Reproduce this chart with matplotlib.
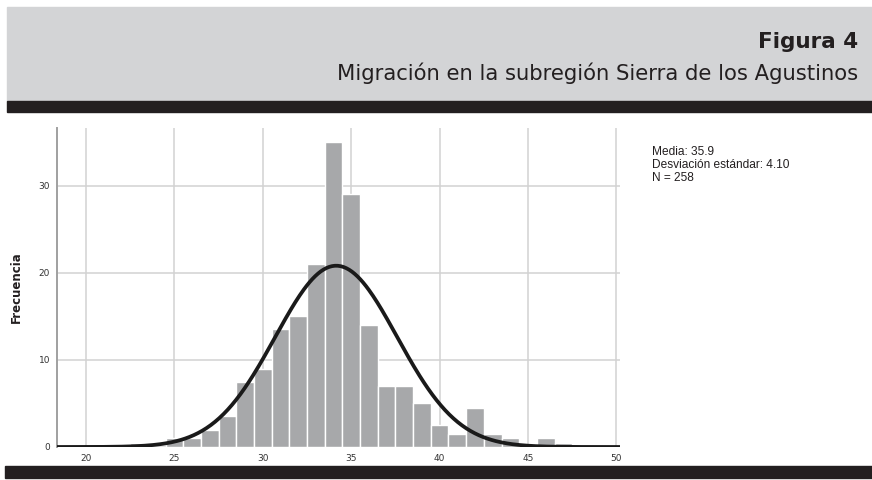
import numpy as np
import matplotlib
matplotlib.use("Agg")
import matplotlib.pyplot as plt
from matplotlib.patches import Rectangle

# histogram bins (centre of each 1-unit bin) and their frequencies
bin_centers = [23, 24, 25, 26, 27, 28, 29, 30, 31, 32, 33, 34, 35,
               36, 37, 38, 39, 40, 41, 42, 43, 44, 45, 46, 47]
frequencies = [0.5, 0, 1, 1, 2, 3.5, 7.5, 9, 13.5, 15, 21, 35, 29,
               14, 7, 7, 5, 2.5, 1.5, 4.5, 1.5, 1, 0, 1, 0.5]

# normal curve drawn over the histogram (as it appears in the figure)
curve_mean = 34.15
curve_sd = 3.45
curve_peak = 20.8

x_ticks = [20, 25, 30, 35, 40, 45, 50]
y_ticks = [0, 10, 20, 30]

title = "Figura 4"
subtitle = "Migración en la subregión Sierra de los Agustinos"
stats_lines = ["Media: 35.9", "Desviación estándar: 4.10", "N = 258"]

W, H = 872, 480
fig = plt.figure(figsize=(W / 100, H / 100), dpi=100)


def fx(px):
    return px / W


def fy(py):
    return 1 - py / H


# header: grey band + black rule
fig.patches.append(Rectangle((fx(7), fy(101)), 1, fy(7) - fy(101),
                             transform=fig.transFigure, color="#d3d4d6", zorder=0))
fig.patches.append(Rectangle((fx(7), fy(112)), 1, fy(101) - fy(112),
                             transform=fig.transFigure, color="#231f20", zorder=1))
# bottom black rule
fig.patches.append(Rectangle((fx(5), fy(478)), 1, fy(466) - fy(478),
                             transform=fig.transFigure, color="#231f20", zorder=1))

fig.text(fx(858), fy(42), title, ha="right", va="center", fontsize=15.5,
         fontweight="bold", color="#231f20", family="DejaVu Sans")
fig.text(fx(858), fy(73), subtitle, ha="right", va="center", fontsize=15.2,
         color="#231f20", family="DejaVu Sans")

# chart
ax = fig.add_axes([fx(57), fy(447), fx(620) - fx(57), fy(128) - fy(447)])
ax.bar(bin_centers, frequencies, width=1.0, color="#a7a8aa",
       edgecolor="white", linewidth=1.0, zorder=2)

xs = np.linspace(18.36, 50.2, 400)
ys = curve_peak * np.exp(-0.5 * ((xs - curve_mean) / curve_sd) ** 2)
ax.plot(xs, ys, color="#1a1a1a", linewidth=2.7, zorder=3, solid_capstyle="butt")

ax.set_xlim(18.36, 50.2)
ax.set_ylim(0, 36.6)
ax.set_xticks(x_ticks)
ax.set_yticks(y_ticks)
ax.grid(True, color="#d2d2d2", linewidth=1.1, zorder=0)
ax.set_axisbelow(True)
for s in ["top", "right", "bottom"]:
    ax.spines[s].set_visible(False)
ax.spines["left"].set_color("#a0a0a0")
ax.spines["left"].set_linewidth(1.4)
ax.tick_params(length=0, labelsize=6.5, colors="#333333", pad=5)

ax.set_ylabel("Frecuencia", fontsize=8.5, fontweight="bold",
              family="DejaVu Sans", color="#231f20", labelpad=11)

fig.text(fx(652), fy(146), "\n".join(stats_lines), ha="left", va="top",
         fontsize=8.6, family="Liberation Sans", color="#231f20", linespacing=1.1)

fig.savefig("out.png", dpi=100)
